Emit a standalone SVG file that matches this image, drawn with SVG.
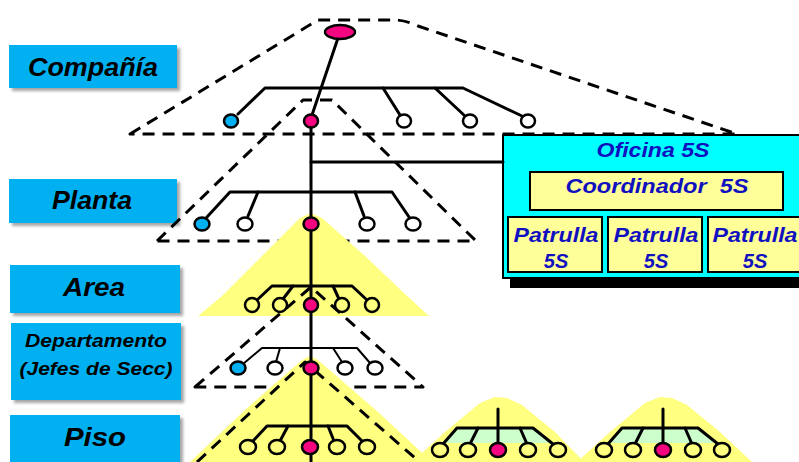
<svg xmlns="http://www.w3.org/2000/svg" width="799" height="462" viewBox="0 0 799 462">
  <defs>
    <filter id="shadow" x="-10%" y="-10%" width="130%" height="140%">
      <feDropShadow dx="3" dy="3" stdDeviation="1.5" flood-color="#000" flood-opacity="0.35"/>
    </filter>
    <style>
      .lvl { fill: #00B0F0; filter: url(#shadow); }
      .lvl-t { font-family: "Liberation Sans", Arial, sans-serif; font-weight: bold; font-style: italic; fill: #000; text-anchor: middle; }
      .dash { fill: none; stroke: #000; stroke-width: 3; stroke-dasharray: 12 8; stroke-linejoin: round; }
      .ln { fill: none; stroke: #000; stroke-width: 3; stroke-linecap: round; stroke-linejoin: round; }
      .thin { fill: none; stroke: #000; stroke-width: 2; stroke-linecap: round; stroke-linejoin: round; }
      .pile { fill: #FFFF80; }
      .band { fill: #CCFFCC; }
      .c-pink { fill: #F5057F; stroke: #000; stroke-width: 2.5; }
      .c-blue { fill: #00B0F0; stroke: #000; stroke-width: 2.5; }
      .c-white { fill: #fff; stroke: #000; stroke-width: 2.5; }
      .c-yel { fill: #FFFF80; stroke: #000; stroke-width: 2.5; }
      .ofi-t { font-family: "Liberation Sans", Arial, sans-serif; font-weight: bold; font-style: italic; fill: #1010C0; text-anchor: middle; font-size: 20px; }
      .box-y { fill: #FFFF99; stroke: #000; stroke-width: 2; }
    </style>
  </defs>

  <rect width="799" height="462" fill="#fff"/>

  <!-- level labels -->
  <g id="lbl-compania">
    <rect class="lvl" x="9" y="45" width="168" height="43"/>
    <text class="lvl-t" x="93" y="76" font-size="26" textLength="130" lengthAdjust="spacingAndGlyphs">Compañía</text>
  </g>
  <g id="lbl-planta">
    <rect class="lvl" x="9" y="179" width="168" height="44"/>
    <text class="lvl-t" x="92" y="209" font-size="26" textLength="80" lengthAdjust="spacingAndGlyphs">Planta</text>
  </g>
  <g id="lbl-area">
    <rect class="lvl" x="10" y="265" width="170" height="48"/>
    <text class="lvl-t" x="94" y="296" font-size="26" textLength="62" lengthAdjust="spacingAndGlyphs">Area</text>
  </g>
  <g id="lbl-departamento">
    <rect class="lvl" x="11" y="323" width="170" height="77"/>
    <text class="lvl-t" x="96" y="347" font-size="19" textLength="142" lengthAdjust="spacingAndGlyphs">Departamento</text>
    <text class="lvl-t" x="96" y="375" font-size="19" textLength="153" lengthAdjust="spacingAndGlyphs">(Jefes de Secc)</text>
  </g>
  <g id="lbl-piso">
    <rect class="lvl" x="10" y="415" width="170" height="52"/>
    <text class="lvl-t" x="95" y="446" font-size="26" textLength="62" lengthAdjust="spacingAndGlyphs">Piso</text>
  </g>

  <!-- Oficina 5S -->
  <g id="oficina">
    <rect x="510" y="144" width="300" height="144" fill="#000"/>
    <rect x="503" y="135" width="310" height="143" fill="#00FFFF" stroke="#000" stroke-width="2"/>
    <text class="ofi-t" x="653" y="157" textLength="113" lengthAdjust="spacingAndGlyphs">Oficina 5S</text>
    <rect class="box-y" x="530" y="172" width="253" height="38"/>
    <text class="ofi-t" x="657" y="193" textLength="183" lengthAdjust="spacingAndGlyphs">Coordinador&#160; 5S</text>
    <rect class="box-y" x="508" y="217" width="94" height="55"/>
    <text class="ofi-t" x="556" y="242" textLength="85" lengthAdjust="spacingAndGlyphs">Patrulla</text>
    <text class="ofi-t" x="556" y="268">5S</text>
    <rect class="box-y" x="608" y="217" width="94" height="55"/>
    <text class="ofi-t" x="656" y="242" textLength="85" lengthAdjust="spacingAndGlyphs">Patrulla</text>
    <text class="ofi-t" x="656" y="268">5S</text>
    <rect class="box-y" x="708" y="217" width="100" height="55"/>
    <text class="ofi-t" x="755" y="242" textLength="85" lengthAdjust="spacingAndGlyphs">Patrulla</text>
    <text class="ofi-t" x="755" y="268">5S</text>
  </g>

  <!-- scope outlines and piles -->
  <g id="scopes">
    <path class="dash" d="M130,134 L318,20 L395,20 Q405,20 418,26 L737,134 Z"/>
    <path class="dash" d="M157,241 L303,100 L332,100 L476,241 Z"/>
    <path class="pile" d="M198,316 L222,296 L262,256 L300,218 L311,213 L322,218 L365,256 L405,294 L429,316 Z"/>
    <path class="dash" d="M195,387 L311,287 L423,387 Z"/>
    <path class="pile" d="M190,462 L245,410 L302,360 L310,356 L318,360 L378,412 L432,462 Z"/>
    <path class="dash" d="M197,462 L305,362 L415,458"/>
    <path class="pile" d="M412,462 L445,432 L480,403 L495,397 L507,398 L522,405 L555,432 L584,462 Z"/>
    <path class="pile" d="M577,462 L610,432 L645,403 L660,397 L672,398 L687,405 L720,432 L752,462 Z"/>
    <path class="band" d="M457,428 L533,428 L552,443 L443,443 Z"/>
    <path class="band" d="M622,428 L698,428 L717,443 L608,443 Z"/>
  </g>

  <!-- connectors -->
  <g id="connectors">
    <!-- trunk -->
    <path class="ln" d="M338,38 L311,118 L311,462"/>
    <path class="ln" d="M311,162 L503,162"/>
    <!-- company branches -->
    <path class="ln" d="M238,114 L265,88 L463,88 L522,116"/>
    <path class="ln" d="M383,88 L400,115"/>
    <path class="ln" d="M435,88 L465,116"/>
    <!-- plant branches -->
    <path class="ln" d="M207,217 L230,192 L392,192 L409,217"/>
    <path class="ln" d="M258,192 L248,216"/>
    <path class="ln" d="M355,192 L364,216"/>
    <!-- area branches -->
    <path class="ln" d="M257,300 L272,286 L352,286 L367,300"/>
    <path class="ln" d="M293,286 L283,299"/>
    <path class="ln" d="M333,286 L339,299"/>
    <!-- department branches -->
    <path class="thin" d="M243,364 L262,348 L357,348 L370,363"/>
    <path class="thin" d="M280,348 L276,362"/>
    <path class="thin" d="M333,348 L342,362"/>
    <!-- floor branches -->
    <path class="ln" d="M253,441 L267,426 L347,426 L362,441"/>
    <path class="ln" d="M288,426 L280,441"/>
    <path class="ln" d="M328,426 L334,441"/>
    <!-- cells -->
    <path class="ln" d="M443,444 L457,428 L533,428 L553,444"/>
    <path class="ln" d="M478,428 L470,444"/>
    <path class="ln" d="M520,428 L527,444"/>
    <path class="ln" d="M498,409 L498,444"/>
    <path class="ln" d="M608,444 L622,428 L698,428 L718,444"/>
    <path class="ln" d="M643,428 L635,444"/>
    <path class="ln" d="M685,428 L692,444"/>
    <path class="ln" d="M663,409 L663,444"/>
  </g>

  <!-- nodes -->
  <g id="n-compania">
    <ellipse class="c-pink" cx="340" cy="32" rx="15" ry="7"/>
  </g>
  <g id="n-compania-row">
    <ellipse class="c-blue" cx="231" cy="121" rx="7" ry="6.5"/>
    <ellipse class="c-pink" cx="311" cy="121" rx="7" ry="6.5"/>
    <ellipse class="c-white" cx="404" cy="121" rx="7" ry="6.5"/>
    <ellipse class="c-white" cx="470" cy="121" rx="7" ry="6.5"/>
    <ellipse class="c-white" cx="528" cy="121" rx="7" ry="6.5"/>
  </g>
  <g id="n-planta-row">
    <ellipse class="c-blue" cx="202" cy="224" rx="7.5" ry="6.5"/>
    <ellipse class="c-white" cx="245" cy="224" rx="7.5" ry="6.5"/>
    <ellipse class="c-pink" cx="311" cy="224" rx="7.5" ry="6.5"/>
    <ellipse class="c-white" cx="367" cy="224" rx="7.5" ry="6.5"/>
    <ellipse class="c-white" cx="413" cy="224" rx="7.5" ry="6.5"/>
  </g>
  <g id="n-area-row">
    <ellipse class="c-yel" cx="252" cy="305" rx="7" ry="7"/>
    <ellipse class="c-yel" cx="280" cy="305" rx="7" ry="7"/>
    <ellipse class="c-pink" cx="311" cy="305" rx="7" ry="7"/>
    <ellipse class="c-yel" cx="342" cy="305" rx="7" ry="7"/>
    <ellipse class="c-yel" cx="372" cy="305" rx="7" ry="7"/>
  </g>
  <g id="n-depto-row">
    <ellipse class="c-blue" cx="238" cy="368" rx="7.5" ry="6.5"/>
    <ellipse class="c-white" cx="275" cy="368" rx="7.5" ry="6.5"/>
    <ellipse class="c-pink" cx="311" cy="368" rx="7.5" ry="6.5"/>
    <ellipse class="c-white" cx="345" cy="368" rx="7.5" ry="6.5"/>
    <ellipse class="c-white" cx="375" cy="368" rx="7.5" ry="6.5"/>
  </g>
  <g id="n-piso-row">
    <ellipse class="c-yel" cx="248" cy="447" rx="8" ry="7"/>
    <ellipse class="c-yel" cx="277" cy="447" rx="8" ry="7"/>
    <ellipse class="c-pink" cx="310" cy="447" rx="8" ry="7"/>
    <ellipse class="c-yel" cx="337" cy="447" rx="8" ry="7"/>
    <ellipse class="c-yel" cx="367" cy="447" rx="8" ry="7"/>
  </g>
  <g id="n-celda-1">
    <ellipse class="c-yel" cx="440" cy="450" rx="8" ry="7"/>
    <ellipse class="c-yel" cx="468" cy="450" rx="8" ry="7"/>
    <ellipse class="c-pink" cx="498" cy="450" rx="8" ry="7"/>
    <ellipse class="c-yel" cx="528" cy="450" rx="8" ry="7"/>
    <ellipse class="c-yel" cx="558" cy="450" rx="8" ry="7"/>
  </g>
  <g id="n-celda-2">
    <ellipse class="c-yel" cx="604" cy="450" rx="8" ry="7"/>
    <ellipse class="c-yel" cx="633" cy="450" rx="8" ry="7"/>
    <ellipse class="c-pink" cx="663" cy="450" rx="8" ry="7"/>
    <ellipse class="c-yel" cx="693" cy="450" rx="8" ry="7"/>
    <ellipse class="c-yel" cx="722" cy="450" rx="8" ry="7"/>
  </g>
</svg>
